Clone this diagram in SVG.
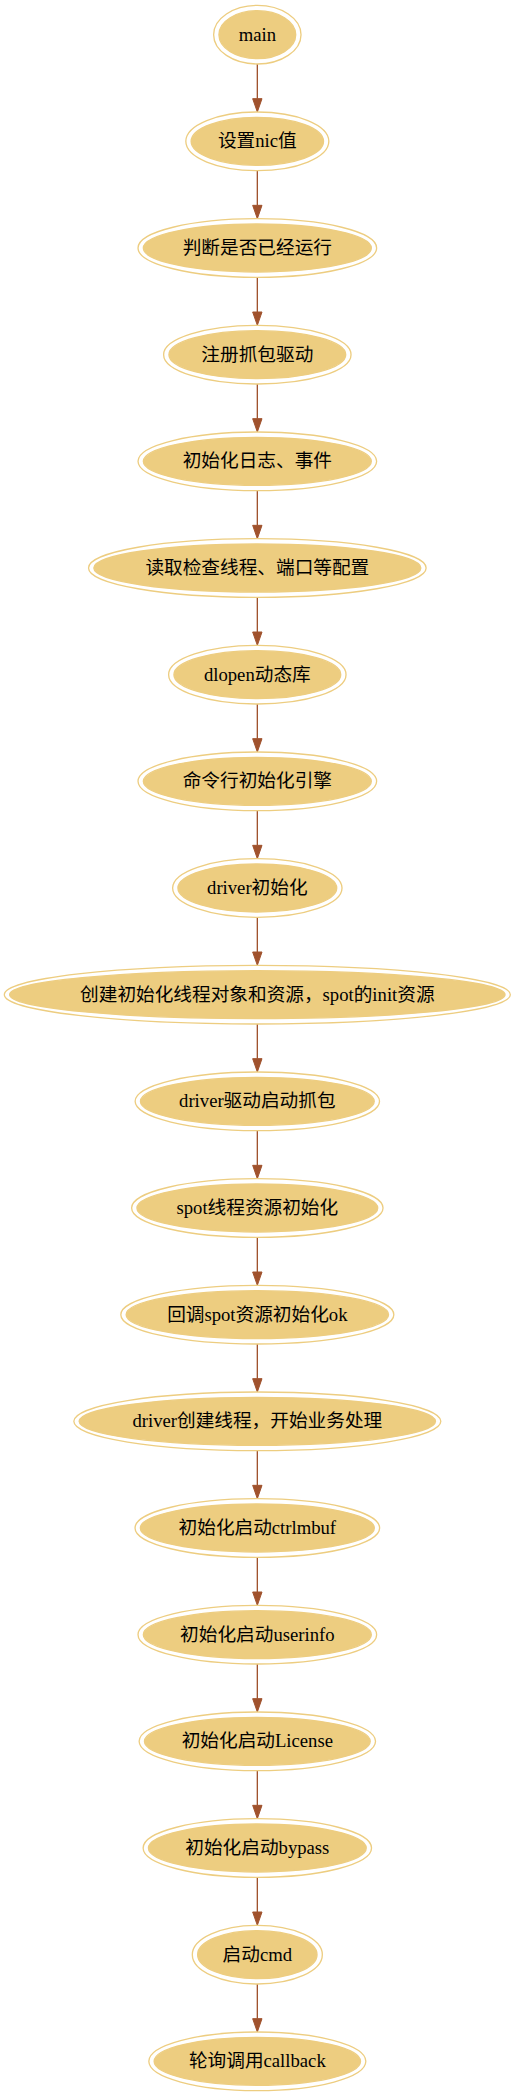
<svg xmlns="http://www.w3.org/2000/svg" width="515" height="2096" viewBox="0 0 515 2096">
<style>
.outer{fill:none;stroke:#edcd80;stroke-width:1.33}
.inner{fill:#edcd80;stroke:#edcd80;stroke-width:1.33}
.lbl{font-family:"Liberation Serif","Noto Sans CJK SC",serif;font-size:18.67px;fill:#000;text-anchor:middle}
.edge{stroke:#a0522d;stroke-width:1.33;fill:none;marker-end:url(#arr)}
</style>
<defs>
<marker id="arr" markerUnits="userSpaceOnUse" markerWidth="14" markerHeight="10" refX="0" refY="4.67" orient="auto" overflow="visible">
<path d="M0,0 L13.33,4.67 L0,9.33 Z" fill="#a0522d" stroke="#a0522d" stroke-width="1"/>
</marker>
</defs>
<rect width="515" height="2096" fill="#fff"/>
<g id="edges">
<line class="edge" x1="257.33" y1="64" x2="257.33" y2="98.67"/>
<line class="edge" x1="257.33" y1="170.67" x2="257.33" y2="205.33"/>
<line class="edge" x1="257.33" y1="277.33" x2="257.33" y2="312"/>
<line class="edge" x1="257.33" y1="384" x2="257.33" y2="418.67"/>
<line class="edge" x1="257.33" y1="490.67" x2="257.33" y2="525.33"/>
<line class="edge" x1="257.33" y1="597.33" x2="257.33" y2="632"/>
<line class="edge" x1="257.33" y1="704" x2="257.33" y2="738.67"/>
<line class="edge" x1="257.33" y1="810.67" x2="257.33" y2="845.33"/>
<line class="edge" x1="257.33" y1="917.33" x2="257.33" y2="952"/>
<line class="edge" x1="257.33" y1="1024" x2="257.33" y2="1058.67"/>
<line class="edge" x1="257.33" y1="1130.67" x2="257.33" y2="1165.33"/>
<line class="edge" x1="257.33" y1="1237.33" x2="257.33" y2="1272"/>
<line class="edge" x1="257.33" y1="1344" x2="257.33" y2="1378.67"/>
<line class="edge" x1="257.33" y1="1450.67" x2="257.33" y2="1485.33"/>
<line class="edge" x1="257.33" y1="1557.33" x2="257.33" y2="1592"/>
<line class="edge" x1="257.33" y1="1664" x2="257.33" y2="1698.67"/>
<line class="edge" x1="257.33" y1="1770.67" x2="257.33" y2="1805.33"/>
<line class="edge" x1="257.33" y1="1877.33" x2="257.33" y2="1912"/>
<line class="edge" x1="257.33" y1="1984" x2="257.33" y2="2018.67"/>
</g>
<g id="n0"><ellipse class="inner" cx="257.33" cy="34.67" rx="38.4" ry="24"/><ellipse class="outer" cx="257.33" cy="34.67" rx="43.7" ry="29.33"/><text class="lbl" x="257.33" y="40.67">main</text></g>
<g id="n1"><ellipse class="inner" cx="257.33" cy="141.33" rx="66.2" ry="24"/><ellipse class="outer" cx="257.33" cy="141.33" rx="71.5" ry="29.33"/><text class="lbl" x="257.33" y="147.33">设置nic值</text></g>
<g id="n2"><ellipse class="inner" cx="257.33" cy="248" rx="114" ry="24"/><ellipse class="outer" cx="257.33" cy="248" rx="119.3" ry="29.33"/><text class="lbl" x="257.33" y="254">判断是否已经运行</text></g>
<g id="n3"><ellipse class="inner" cx="257.33" cy="354.67" rx="88.4" ry="24"/><ellipse class="outer" cx="257.33" cy="354.67" rx="93.7" ry="29.33"/><text class="lbl" x="257.33" y="360.67">注册抓包驱动</text></g>
<g id="n4"><ellipse class="inner" cx="257.33" cy="461.33" rx="114" ry="24"/><ellipse class="outer" cx="257.33" cy="461.33" rx="119.3" ry="29.33"/><text class="lbl" x="257.33" y="467.33">初始化日志、事件</text></g>
<g id="n5"><ellipse class="inner" cx="257.33" cy="568" rx="163.5" ry="24"/><ellipse class="outer" cx="257.33" cy="568" rx="168.8" ry="29.33"/><text class="lbl" x="257.33" y="574">读取检查线程、端口等配置</text></g>
<g id="n6"><ellipse class="inner" cx="257.33" cy="674.67" rx="83.4" ry="24"/><ellipse class="outer" cx="257.33" cy="674.67" rx="88.7" ry="29.33"/><text class="lbl" x="257.33" y="680.67">dlopen动态库</text></g>
<g id="n7"><ellipse class="inner" cx="257.33" cy="781.33" rx="114" ry="24"/><ellipse class="outer" cx="257.33" cy="781.33" rx="119.3" ry="29.33"/><text class="lbl" x="257.33" y="787.33">命令行初始化引擎</text></g>
<g id="n8"><ellipse class="inner" cx="257.33" cy="888" rx="79.4" ry="24"/><ellipse class="outer" cx="257.33" cy="888" rx="84.7" ry="29.33"/><text class="lbl" x="257.33" y="894">driver初始化</text></g>
<g id="n9"><ellipse class="inner" cx="257.33" cy="994.67" rx="247.7" ry="24"/><ellipse class="outer" cx="257.33" cy="994.67" rx="253" ry="29.33"/><text class="lbl" x="257.33" y="1000.67">创建初始化线程对象和资源，spot的init资源</text></g>
<g id="n10"><ellipse class="inner" cx="257.33" cy="1101.33" rx="116.9" ry="24"/><ellipse class="outer" cx="257.33" cy="1101.33" rx="122.2" ry="29.33"/><text class="lbl" x="257.33" y="1107.33">driver驱动启动抓包</text></g>
<g id="n11"><ellipse class="inner" cx="257.33" cy="1208" rx="120.4" ry="24"/><ellipse class="outer" cx="257.33" cy="1208" rx="125.7" ry="29.33"/><text class="lbl" x="257.33" y="1214">spot线程资源初始化</text></g>
<g id="n12"><ellipse class="inner" cx="257.33" cy="1314.67" rx="131.2" ry="24"/><ellipse class="outer" cx="257.33" cy="1314.67" rx="136.5" ry="29.33"/><text class="lbl" x="257.33" y="1320.67">回调spot资源初始化ok</text></g>
<g id="n13"><ellipse class="inner" cx="257.33" cy="1421.33" rx="178.2" ry="24"/><ellipse class="outer" cx="257.33" cy="1421.33" rx="183.5" ry="29.33"/><text class="lbl" x="257.33" y="1427.33">driver创建线程，开始业务处理</text></g>
<g id="n14"><ellipse class="inner" cx="257.33" cy="1528" rx="117" ry="24"/><ellipse class="outer" cx="257.33" cy="1528" rx="122.3" ry="29.33"/><text class="lbl" x="257.33" y="1534">初始化启动ctrlmbuf</text></g>
<g id="n15"><ellipse class="inner" cx="257.33" cy="1634.67" rx="114" ry="24"/><ellipse class="outer" cx="257.33" cy="1634.67" rx="119.3" ry="29.33"/><text class="lbl" x="257.33" y="1640.67">初始化启动userinfo</text></g>
<g id="n16"><ellipse class="inner" cx="257.33" cy="1741.33" rx="112.9" ry="24"/><ellipse class="outer" cx="257.33" cy="1741.33" rx="118.2" ry="29.33"/><text class="lbl" x="257.33" y="1747.33">初始化启动License</text></g>
<g id="n17"><ellipse class="inner" cx="257.33" cy="1848" rx="108.9" ry="24"/><ellipse class="outer" cx="257.33" cy="1848" rx="114.2" ry="29.33"/><text class="lbl" x="257.33" y="1854">初始化启动bypass</text></g>
<g id="n18"><ellipse class="inner" cx="257.33" cy="1954.67" rx="59.7" ry="24"/><ellipse class="outer" cx="257.33" cy="1954.67" rx="65" ry="29.33"/><text class="lbl" x="257.33" y="1960.67">启动cmd</text></g>
<g id="n19"><ellipse class="inner" cx="257.33" cy="2061.33" rx="103.2" ry="24"/><ellipse class="outer" cx="257.33" cy="2061.33" rx="108.5" ry="29.33"/><text class="lbl" x="257.33" y="2067.33">轮询调用callback</text></g>
</svg>
